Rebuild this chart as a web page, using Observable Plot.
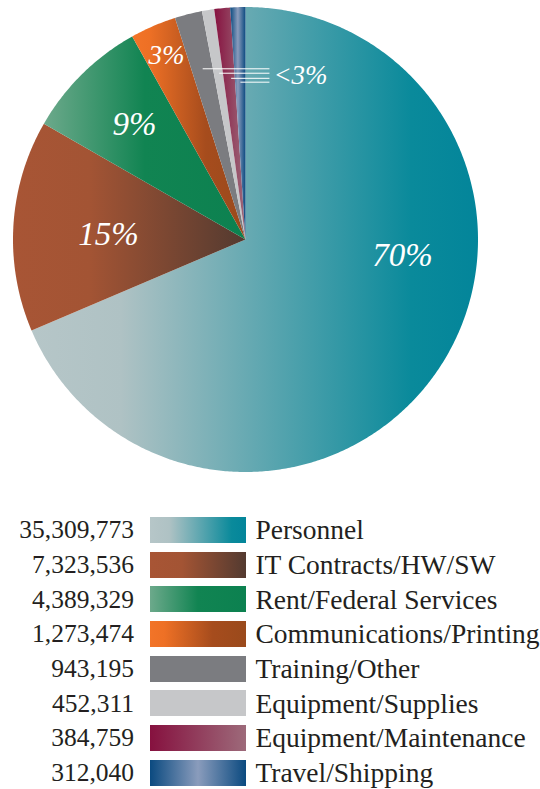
<!DOCTYPE html>
<html><head><meta charset="utf-8">
<script src="https://cdn.jsdelivr.net/npm/d3@7"></script>
<script src="https://cdn.jsdelivr.net/npm/@observablehq/plot@0.6"></script>
<style>
body{margin:0;background:#fff;font-family:"Liberation Serif","Times New Roman",serif;color:#231f20;}
#chart svg{display:block}
#legend{margin-top:32.6px}
.row{display:flex;align-items:center;height:34.7px}
.val{width:134px;text-align:right;font-size:25.5px;line-height:1}
.sw{width:96px;height:26px;margin-left:16px;flex:none}
.lab{margin-left:9.4px;font-size:27.5px;white-space:nowrap;line-height:1}
</style></head><body>
<div id="chart"></div>
<div id="legend"></div>
<script>
// ---- data ----
const categories = ["Personnel","IT Contracts/HW/SW","Rent/Federal Services","Communications/Printing","Training/Other","Equipment/Supplies","Equipment/Maintenance","Travel/Shipping"];
const amounts = [35309773, 7323536, 4389329, 1273474, 943195, 452311, 384759, 312040];
// share of the circle each slice takes as drawn in the picture (percent)
const sliceShare = [68.6, 14.7, 8.6, 3.2, 1.9, 0.85, 1.1, 1.05];
const pctLabels = ["70%", "15%", "9%", "3%", "<3%"];

// ---- styles ----
const gradients = [
  [[0,"#b6c6c8"],[0.2,"#afc2c4"],[0.85,"#0a8a9b"],[1,"#03859a"]],
  [[0,"#a85535"],[0.33,"#a35434"],[1,"#533a30"]],
  [[0,"#6ca98b"],[0.5,"#118452"],[1,"#0c8150"]],
  [[0,"#f27428"],[0.15,"#ee7025"],[0.65,"#a64c1d"],[1,"#9a4a1c"]],
  [[0,"#7b7c80"],[1,"#7b7c80"]],
  [[0,"#c6c7c9"],[1,"#c6c7c9"]],
  [[0,"#86113f"],[1,"#9d6a7a"]],
  [[0,"#0b4a80"],[0.5,"#8a9cbc"],[1,"#0b4a80"]]
];

const total = d3.sum(sliceShare);
let acc = 0;
const slices = categories.map((c, i) => {
  const a0 = acc / total * 2 * Math.PI; acc += sliceShare[i];
  const a1 = acc / total * 2 * Math.PI;
  return {c, i, a0, a1};
});
function arcPoints(s) {
  const pts = [{x: 0, y: 0}];
  const n = Math.max(2, Math.ceil((s.a1 - s.a0) / (Math.PI / 360)));
  for (let k = 0; k <= n; k++) {
    const a = s.a0 + (s.a1 - s.a0) * k / n;
    pts.push({x: Math.sin(a), y: Math.cos(a)});
  }
  return pts;
}

// label placement (data units, centre = 0,0, radius = 1)
const spots = [
  {x: 0.675, y: -0.07, size: 33, anchor: "middle"},
  {x: -0.589, y: 0.02, size: 33, anchor: "middle"},
  {x: -0.477, y: 0.493, size: 33, anchor: "middle"},
  {x: -0.34, y: 0.794, size: 27, anchor: "middle"},
  {x: 0.12, y: 0.704, size: 27, anchor: "start"}
];
const labelData = pctLabels.map((t, i) => ({t, ...spots[i]}));

// leader lines for the small slices
const leaderR = [0.757, 0.724, 0.696, 0.677];
const leaderF = [0.52, 0.6, 0.67, 0.51];
const leaders = slices.slice(4).map((s, k) => {
  const a = s.a0 + (s.a1 - s.a0) * leaderF[k];
  return {x1: leaderR[k] * Math.sin(a), y: leaderR[k] * Math.cos(a), x2: 0.103};
});

const plot = Plot.plot({
  width: 540, height: 480,
  marginLeft: 12.5, marginRight: 62.5, marginTop: 6.5, marginBottom: 8.5,
  x: {domain: [-1, 1], axis: null},
  y: {domain: [-1, 1], axis: null},
  style: {background: "transparent", overflow: "visible"},
  marks: [
    ...slices.map(s => Plot.line(arcPoints(s), {x: "x", y: "y", fill: `url(#grad${s.i})`, stroke: "none", curve: "linear-closed"})),
    Plot.link(leaders, {x1: "x1", y1: "y", x2: "x2", y2: "y", stroke: "white", strokeWidth: 1}),
    Plot.text(labelData.filter(d => d.size === 33), {x: "x", y: "y", text: "t", fill: "white", fontStyle: "italic", fontSize: 33, fontFamily: "Liberation Serif", textAnchor: "middle"}),
    Plot.text(labelData.filter(d => d.size === 27 && d.anchor === "middle"), {x: "x", y: "y", text: "t", fill: "white", fontStyle: "italic", fontSize: 27, fontFamily: "Liberation Serif", textAnchor: "middle"}),
    Plot.text(labelData.filter(d => d.anchor === "start"), {x: "x", y: "y", text: "t", fill: "white", fontStyle: "italic", fontSize: 27, fontFamily: "Liberation Serif", textAnchor: "start"})
  ]
});

const defs = d3.select(plot).insert("defs", ":first-child");
gradients.forEach((stops, i) => {
  const g = defs.append("linearGradient").attr("id", `grad${i}`).attr("x1", 0).attr("x2", 1).attr("y1", 0).attr("y2", 0);
  stops.forEach(([o, c]) => g.append("stop").attr("offset", o).attr("stop-color", c));
});
document.getElementById("chart").appendChild(plot);

// legend
const fmt = d3.format(",");
const legend = d3.select("#legend");
categories.forEach((c, i) => {
  const row = legend.append("div").attr("class", "row");
  row.append("div").attr("class", "val").text(fmt(amounts[i]));
  row.append("div").attr("class", "sw").style("background",
    `linear-gradient(to right, ${gradients[i].map(([o, col]) => `${col} ${o * 100}%`).join(", ")})`);
  row.append("div").attr("class", "lab").text(c);
});
</script>
</body></html>
